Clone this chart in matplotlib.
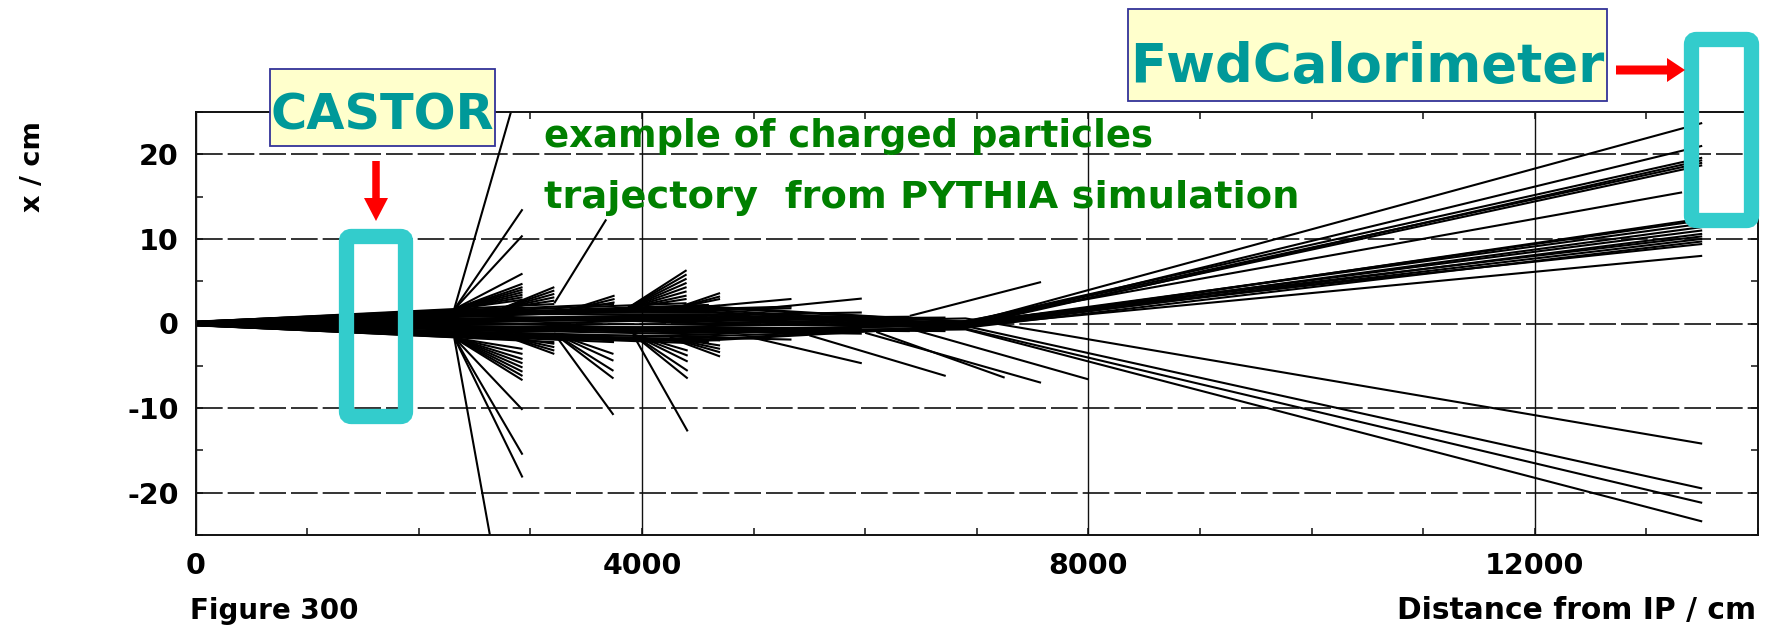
import matplotlib
matplotlib.use('Agg')
import matplotlib.pyplot as plt
from matplotlib.patches import FancyBboxPatch, Rectangle, FancyArrow
from matplotlib.ticker import MultipleLocator

plt.rcParams['font.family'] = ['DejaVu Sans']
plt.rcParams['axes.unicode_minus'] = False

# axis ticks
x_ticks = [0, 4000, 8000, 12000]
x_tick_labels = ['0', '4000', '8000', '12000']
y_ticks = [-20, -10, 0, 10, 20]
y_tick_labels = ['-20', '-10', '0', '10', '20']

# tracks reaching the forward calorimeter:
# x (cm) at z = 0, 2300, 4600, 6900 cm, then the end point
core_z = [0, 2300, 4600, 6900]
fwd_x_0 = [0.2, -0.05, 0.1, -0.15, 0.0, 0.15, -0.1, 0.05, -0.2, 0.0, 0.1,
           -0.05, 0.2, -0.1, 0.05, -0.15, 0.1, 0.0, 0.12, -0.2, 0.02, -0.08]
fwd_x_2300 = [1.6, -0.2, 0.9, -1.1, 0.3, 1.3, -0.7, 0.6, -1.5, 0.1, 1.1,
              -0.4, 1.45, -0.9, 0.45, -1.3, 0.75, -0.05, 1.0, -1.6, 0.2, -0.55]
fwd_x_4600 = [1.3, 0.5, 2.0, -0.6, 0.9, 1.6, -1.3, 0.2, -1.85, 0.7, 1.1,
              -0.9, 1.4, -0.3, 0.4, -1.5, 1.85, -0.1, 0.0, -2.0, -0.8, -1.1]
fwd_x_6900 = [0.0, -0.2, 0.2, -0.3, 0.1, -0.1, 0.3, -0.4, -0.2, 0.0, -0.3,
              -0.1, -0.4, 0.1, -0.2, -0.5, 0.2, -0.3, 0.6, -0.3, -0.6, -0.7]
fwd_z_end = [13500, 13500, 13500, 13500, 13500, 13500, 13320, 13500, 13500, 13500, 13500,
             13500, 13500, 13500, 13500, 13500, 13500, 13500, 13500, 13500, 13500, 13500]
fwd_x_end = [23.7, 21.0, 19.6, 19.3, 19.0, 18.7, 15.5, 12.4, 12.2, 11.8, 11.4,
             11.0, 10.6, 10.3, 10.0, 9.7, 9.4, 8.0, -14.2, -19.5, -21.2, -23.4]

# tracks from the IP that stop before the calorimeter
stop_x0 = [0.22, -0.22, 0.1, -0.05, 0.0, 0.18, -0.18, 0.05, 0.15, -0.15,
           0.2, -0.2, 0.08, 0.12, -0.12, 0.1, 0.05, -0.05, -0.1, 0.06,
           0.2, -0.2, 0.1, -0.1, 0.15, -0.15, 0.1, -0.1, 0.05, -0.05]
stop_z = [2930, 2930, 2930, 2930, 2930, 3215, 3215, 3215, 3750, 3750,
          4400, 4400, 4400, 4700, 4700, 5340, 5970, 5970, 6720, 6720,
          5340, 5340, 5970, 5970, 4600, 4600, 3750, 3750, 6400, 6400]
stop_x = [1.9, -1.9, 1.2, -0.8, 0.4, 2.3, -2.2, 0.6, 2.3, -2.2,
          2.4, -2.3, 1.0, 2.1, -2.0, 2.0, 1.3, -1.2, -0.9, 0.7,
          1.8, -1.9, 0.9, -0.6, 2.2, -2.2, 1.7, -1.7, 0.8, -0.9]

# secondary fans: vertex, common end z, end x of each track
fan_vtx_z = [2320, 2320, 2750, 2800, 3215, 3350, 3870, 3920, 4300, 4250]
fan_vtx_x = [1.7, -1.7, 1.8, -1.6, -1.2, 1.6, 1.8, -1.3, 1.8, -1.7]
fan_end_z = [2930, 2930, 3215, 3215, 3745, 3755, 4400, 4410, 4700, 4700]
fan_end_x = [
    [13.5, 10.4, 5.9, 4.7, 4.3, 4.0, 3.7, 3.4, 3.1, 2.8],
    [-18.2, -15.5, -10.2, -6.7, -6.2, -5.7, -5.2, -4.7, -4.2, -3.6, -3.0],
    [4.3, 3.9, 3.5, 3.1, 2.7],
    [-3.6, -3.2, -2.8, -2.4],
    [-10.8, -6.5, -5.6, -4.4, -3.6],
    [3.3, 2.9, 2.5],
    [6.3, 5.8, 5.3, 4.8, 4.3, 3.8, 3.3, 2.9],
    [-12.75, -6.5, -5.6, -4.5, -3.8, -3.2],
    [3.6, 3.2, 2.9],
    [-3.9, -3.4, -3.0, -2.6],
]

# single tracks: start and end
single_z0 = [2320, 2320, 3215, 4500, 4950, 6400, 5000, 5500, 6000, 6100, 6450]
single_x0 = [1.8, -1.8, 2.4, 1.9, 1.6, 0.9, -1.7, -1.4, -1.1, -1.0, -0.8]
single_z1 = [2870, 2665, 3680, 5340, 5970, 7576, 5970, 6722, 7576, 7250, 8000]
single_x1 = [27.0, -27.0, 12.3, 2.9, 2.95, 4.9, -4.7, -6.2, -7.0, -6.4, -6.6]

W, H = 1771, 628
fig = plt.figure(figsize=(W / 100, H / 100), dpi=100)
ax = fig.add_axes([195.5 / W, (H - 535) / H, (1758 - 195.5) / W, (535 - 112) / H])


def px(x, y):
    # pixel position (from top-left) -> inches from bottom-left
    return x / 100, (H - y) / 100


trk = dict(color='black', lw=1.5, solid_capstyle='butt')

for i in range(len(fwd_x_end)):
    zs = core_z + [fwd_z_end[i]]
    xs = [fwd_x_0[i], fwd_x_2300[i], fwd_x_4600[i], fwd_x_6900[i], fwd_x_end[i]]
    ax.plot(zs, xs, **trk)

for x0, z, x in zip(stop_x0, stop_z, stop_x):
    ax.plot([0, z], [x0, x], **trk)

for vz, vx, ez, ends in zip(fan_vtx_z, fan_vtx_x, fan_end_z, fan_end_x):
    for ex in ends:
        ax.plot([vz, ez], [vx, ex], **trk)

for z0, x0, z1, x1 in zip(single_z0, single_x0, single_z1, single_x1):
    ax.plot([z0, z1], [x0, x1], **trk)

ax.set_xlim(0, 14000)
ax.set_ylim(-25, 25)
ax.set_xticks(x_ticks, x_tick_labels)
ax.set_yticks(y_ticks, y_tick_labels)
ax.xaxis.set_minor_locator(MultipleLocator(1000))
ax.yaxis.set_minor_locator(MultipleLocator(5))
ax.set_axisbelow(True)
ax.grid(axis='y', which='major', color='#111111', lw=1.2, ls=(0, (16, 3)))
ax.grid(axis='x', which='major', color='#111111', lw=1.0, ls='-')
ax.tick_params(which='both', direction='in', top=True, right=True,
               length=5, width=1.1, color='#111111')
ax.tick_params(axis='x', labelsize=20.5, pad=12)
ax.tick_params(axis='y', labelsize=20.5, pad=12)
for lab in ax.get_xticklabels() + ax.get_yticklabels():
    lab.set_fontweight('bold')
for s in ax.spines.values():
    s.set_linewidth(1.4)
    s.set_color('#111111')

tr = fig.dpi_scale_trans
fig.text(*px(33, 167), 'x / cm', rotation=90, ha='center', va='center',
         fontsize=19.5, fontweight='bold', transform=tr)
fig.text(*px(190, 619), 'Figure 300', ha='left', va='baseline',
         fontsize=20, fontweight='bold', transform=tr)
fig.text(*px(1756, 619), 'Distance from IP / cm', ha='right', va='baseline',
         fontsize=21.4, fontweight='bold', transform=tr)

# annotations
teal = '#009999'
green = '#008000'
fig.add_artist(Rectangle(px(270, 146), 2.25, 0.77, fc='#FFFFCC', ec='#333399',
                         lw=1.3, transform=tr, zorder=2))
fig.add_artist(Rectangle(px(1128, 101), 4.79, 0.92, fc='#FFFFCC', ec='#333399',
                         lw=1.3, transform=tr, zorder=2))

t_castor = fig.text(*px(382, 130), 'CASTOR', ha='center', va='baseline',
                    fontsize=30, fontweight='bold', color=teal, transform=tr, zorder=4)
t_fwd = fig.text(*px(1367, 82), 'FwdCalorimeter', ha='center', va='baseline',
                 fontsize=30, fontweight='bold', color=teal, transform=tr, zorder=4)
t_l1 = fig.text(*px(544, 147), 'example of charged particles', ha='left', va='baseline',
                fontsize=22, fontweight='bold', color=green, transform=tr, zorder=4)
t_l2 = fig.text(*px(544, 208), 'trajectory  from PYTHIA simulation', ha='left',
                va='baseline', fontsize=22, fontweight='bold', color=green,
                transform=tr, zorder=4)

# scale the annotation fonts to the widths seen in the picture
fig.canvas.draw()
r = fig.canvas.get_renderer()
for t, target in [(t_castor, 224), (t_fwd, 474), (t_l1, 606), (t_l2, 752)]:
    w = t.get_window_extent(renderer=r).width
    t.set_fontsize(t.get_fontsize() * target / w)

# cyan detector frames
fig.add_artist(FancyBboxPatch(px(346.5, 416.5), 0.59, 1.80,
                              boxstyle='round,pad=0,rounding_size=0.05',
                              fc='none', ec='#33CCCC', lw=11, transform=tr, zorder=5))
fig.add_artist(FancyBboxPatch(px(1691.5, 220.5), 0.60, 1.81,
                              boxstyle='round,pad=0,rounding_size=0.05',
                              fc='none', ec='#33CCCC', lw=11, transform=tr, zorder=5))

# red arrows
fig.add_artist(FancyArrow(*px(376, 161), 0, -0.60, width=0.075, head_width=0.24,
                          head_length=0.23, length_includes_head=True,
                          color='#FF0000', lw=0, transform=tr, zorder=5))
fig.add_artist(FancyArrow(*px(1616, 70), 0.69, 0, width=0.09, head_width=0.24,
                          head_length=0.18, length_includes_head=True,
                          color='#FF0000', lw=0, transform=tr, zorder=5))

fig.savefig('out.png', dpi=100)
